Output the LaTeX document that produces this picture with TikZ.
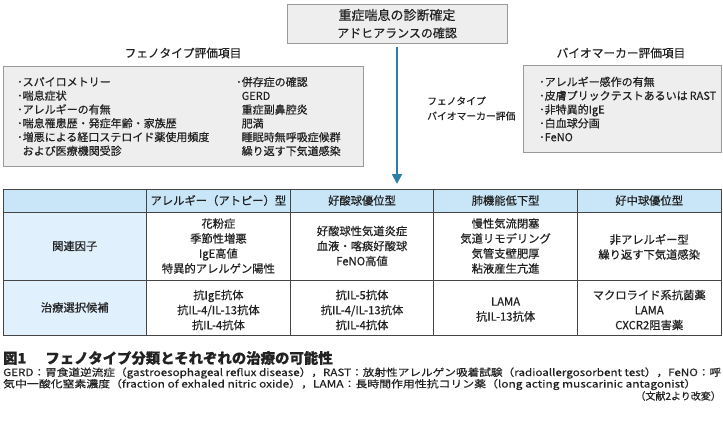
\documentclass[tikz,border=0pt]{standalone}
\usepackage{fontspec}
\setmainfont{Noto Sans CJK JP}[FakeBold=0.5]
\usetikzlibrary{arrows.meta}
\definecolor{boxgray}{HTML}{EEEEEE}
\definecolor{boxline}{HTML}{9A9A9A}
\definecolor{hdrblue}{HTML}{C8E6F8}
\definecolor{colblue}{HTML}{E0F0FC}
\definecolor{arrowblue}{HTML}{2A7FA3}
\definecolor{txt}{HTML}{222222}
\definecolor{gridc}{HTML}{454545}
\tikzset{
  graybox/.style={draw=boxline, line width=0.9pt, fill=boxgray, inner sep=0pt},
  itemtext/.style={align=left, font=\fontsize{11}{13.8}\selectfont},
  celltext/.style={align=center, font=\fontsize{11.3}{15}\selectfont},
  titletext/.style={font=\fontsize{11.7}{14}\selectfont},
  notetext/.style={font=\fontsize{10}{11}\selectfont},
  gridline/.style={draw=gridc, line width=1pt},
}
\begin{document}
\begin{tikzpicture}[x=1pt,y=-1pt, every node/.style={text=txt, inner sep=0pt}]
\useasboundingbox (0,0) rectangle (723,428);

% top box
\node[graybox, minimum width=220pt, minimum height=39pt] (top) at (397,23.5) {};
\node[font=\fontsize{13}{15}\selectfont] (t1) at (397,15) {重症喘息の診断確定};
\node[font=\fontsize{12}{15}\selectfont] (t2) at (397,33) {アドヒアランスの確認};

% titles
\node[titletext] (phtitle) at (183,53) {フェノタイプ評価項目};
\node[titletext] (biotitle) at (621,53) {バイオマーカー評価項目};

% phenotype box
\node[graybox, anchor=north west, minimum width=360pt, minimum height=100pt] (pheno) at (3,66) {};
\node[itemtext, anchor=west] (pl) at (17,116.5) {･スパイロメトリー\\･喘息症状\\･アレルギーの有無\\･喘息罹患歴・発症年齢・家族歴\\･増悪による経口ステロイド薬使用頻度\\\hphantom{･}および医療機関受診};
\node[itemtext, anchor=west] (pr) at (236,116.5) {･併存症の確認\\\hphantom{･}GERD\\\hphantom{･}重症副鼻腔炎\\\hphantom{･}肥満\\\hphantom{･}睡眠時無呼吸症候群\\\hphantom{･}繰り返す下気道感染};

% biomarker box
\node[graybox, anchor=north west, minimum width=198pt, minimum height=87pt] (bio) at (523,65) {};
\node[itemtext, anchor=west] (bl) at (539,109) {･アレルギー感作の有無\\･皮膚プリックテストあるいは\hspace{2pt}RAST\\･非特異的IgE\\･白血球分画\\･FeNO};

% middle label
\node[anchor=west, align=left, font=\fontsize{9.8}{15}\selectfont] (mid) at (427,108.5) {フェノタイプ\\バイオマーカー評価};

% arrow
\coordinate (tabtop) at (397,184);
\draw[arrowblue, line width=2pt, -{Triangle[width=10pt,length=10pt]}] (top.south) ++(0,4) -- (tabtop);

% table fills
\fill[hdrblue] (3,189) rectangle (721,212);
\fill[colblue] (3,212) rectangle (146.6,335);
% grid
\draw[gridline] (3,189) rectangle (721,335);
\draw[gridline] (3,212) -- (721,212);
\draw[gridline] (3,280) -- (721,280);
\foreach \xx in {146.6,290.2,433.8,577.4} \draw[gridline] (\xx,189) -- (\xx,335);

% header cells
\node[celltext] (h2) at (218.4,200.5) {アレルギー（アトピー）型};
\node[celltext] (h3) at (362,200.5) {好酸球優位型};
\node[celltext] (h4) at (505.6,200.5) {肺機能低下型};
\node[celltext] (h5) at (649.2,200.5) {好中球優位型};

% row 1
\node[celltext] (r1c1) at (74.8,246) {関連因子};
\node[celltext] (r1c2) at (218.4,246) {花粉症\\季節性増悪\\IgE高値\\特異的アレルゲン陽性};
\node[celltext] (r1c3) at (362,246) {好酸球性気道炎症\\血液・喀痰好酸球\\FeNO高値};
\node[celltext] (r1c4) at (505.6,246) {慢性気流閉塞\\気道リモデリング\\気管支壁肥厚\\粘液産生亢進};
\node[celltext] (r1c5) at (649.2,247) {非アレルギー型\\繰り返す下気道感染};

% row 2
\node[celltext] (r2c1) at (74.8,307.5) {治療選択候補};
\node[celltext] (r2c2) at (218.4,310) {抗IgE抗体\\抗IL-4/IL-13抗体\\抗IL-4抗体};
\node[celltext] (r2c3) at (362,310) {抗IL-5抗体\\抗IL-4/IL-13抗体\\抗IL-4抗体};
\node[celltext] (r2c4) at (505.6,309.5) {LAMA\\抗IL-13抗体};
\node[celltext] (r2c5) at (649.2,310) {マクロライド系抗菌薬\\LAMA\\CXCR2阻害薬};

% caption
\node[anchor=west, font=\fontsize{14.4}{16}\selectfont\bfseries] (cap) at (3,358) {図1\hspace{19pt}フェノタイプ分類とそれぞれの治療の可能性};
\node[anchor=west, notetext] (n1) at (3,373) {\resizebox{718pt}{\height}{GERD：胃食道逆流症（gastroesophageal reflux disease），RAST：放射性アレルゲン吸着試験（radioallergosorbent test），FeNO：呼}};
\node[anchor=west, notetext] (n2) at (3,384.5) {\resizebox{693pt}{\height}{気中一酸化窒素濃度（fraction of exhaled nitric oxide），LAMA：長時間作用性抗コリン薬（long acting muscarinic antagonist）}};
\node[anchor=east, notetext] (n3) at (721,396) {（文献2より改変）};
\end{tikzpicture}
\end{document}
